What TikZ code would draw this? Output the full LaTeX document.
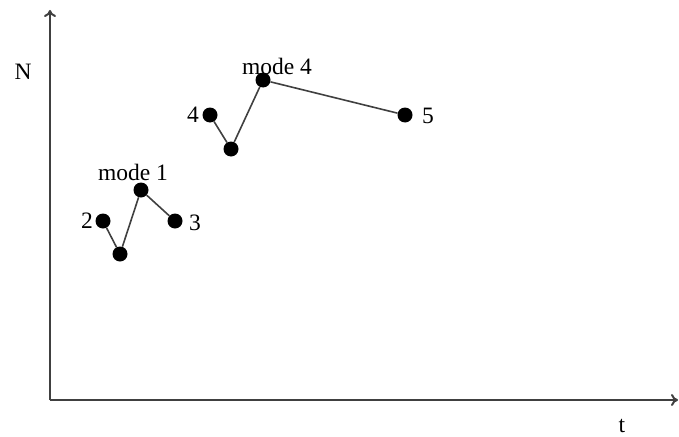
\documentclass[tikz,border=0pt]{standalone}
\usepackage{fontspec}
\setmainfont{Liberation Serif}
\usetikzlibrary{arrows.meta}
\begin{document}
\begin{tikzpicture}[x=1pt,y=-1pt,
  axis/.style={draw=black!75,line width=2pt,-{To[length=7pt,width=12pt]}},
  seg/.style={draw=black!75,line width=1.6pt},
  dot/.style={circle,fill=black,inner sep=0pt,minimum size=15pt},
  lbl/.style={font=\fontsize{23.5}{27}\selectfont,inner sep=0pt}]
\useasboundingbox (0,0) rectangle (679,436);
\coordinate (O) at (50,400);
\coordinate (ytop) at (50,10);
\coordinate (xend) at (678,400);
\draw[axis] (O) -- (ytop);
\draw[axis] (O) -- (xend);
\node[lbl] (N) at (23,72) {N};
\node[lbl,anchor=base] (t) at (622,432) {t};
% mode 1 group
\node[dot] (p2) at (103,221) {};
\node[dot] (q1) at (120,254) {};
\node[dot] (m1) at (141,190) {};
\node[dot] (p3) at (175,221) {};
\draw[seg] (p2) -- (q1) -- (m1) -- (p3);
\node[lbl] (l2) at (87,221) {2};
\node[lbl] (l3) at (195,223) {3};
\node[lbl] (lm1) at (133,172) {mode 1};
% mode 4 group
\node[dot] (p4) at (210,115) {};
\node[dot] (q4) at (231,149) {};
\node[dot] (m4) at (263,80) {};
\node[dot] (p5) at (405,115) {};
\draw[seg] (p4) -- (q4) -- (m4) -- (p5);
\node[lbl] (l4) at (193,115) {4};
\node[lbl] (l5) at (428,116) {5};
\node[lbl] (lm4) at (277,66) {mode 4};
\end{tikzpicture}
\end{document}
